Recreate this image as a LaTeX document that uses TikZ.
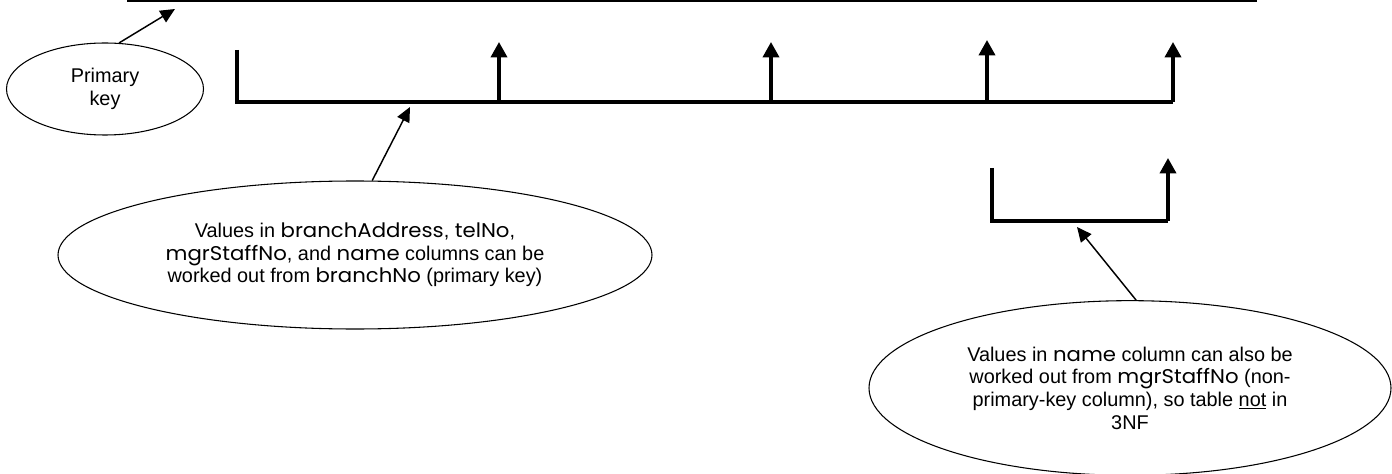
\documentclass[tikz,border=0pt]{standalone}
\usepackage{fontspec}
\setmainfont{Liberation Sans}
\newfontfamily\codefont[FakeStretch=1.07]{Poppins}
\newcommand\cw[1]{{\codefont #1}}
\usetikzlibrary{shapes.geometric,arrows.meta}
\tikzset{
  bubble/.style={draw,ellipse,line width=0.8pt,inner sep=0pt,align=center,
    font=\fontsize{14.9}{17}\selectfont},
  dep/.style={line width=2.6pt,-{Triangle[width=12pt,length=11.5pt]}},
  bar/.style={line width=2.6pt},
  pointer/.style={line width=1.1pt,-{Triangle[width=10pt,length=11pt]}}
}
\begin{document}
\begin{tikzpicture}[x=0.75pt,y=-0.75pt]
      \useasboundingbox (0,0) rectangle (1392,474);
      \draw[line width=2.4pt] (127,0.5) -- (1257,0.5);
      % the ellipses
      \node[bubble,minimum width=147.75pt,minimum height=69pt] (key) at (105,89)
        {Primary\\key};
      \node[bubble,minimum width=445.5pt,minimum height=111pt] (lft) at (355,255)
        {Values in \cw{branchAddress}, \cw{telNo},\\
         \cw{mgrStaffNo}, and \cw{name} columns can be\\
         worked out from \cw{branchNo} (primary key)};
      \node[bubble,minimum width=391.5pt,minimum height=131pt] (rgt) at (1130,388)
        {Values in \cw{name} column can also be\\
         worked out from \cw{mgrStaffNo} (non-\\
         primary-key column), so table \underline{not} in\\
         3NF};
      % the dependency lines
      \coordinate (m0) at (237,50);
      \coordinate (m1) at (237,102);
      \coordinate (m2) at (1173,102);
      \draw[bar] (m0) -- (m1) -- (m2);
      \draw[dep] (499,102) -- (499,42);
      \draw[dep] (771,102) -- (771,42);
      \draw[dep] (987,102) -- (987,40);
      \draw[dep] (m2) -- (1173,42);
      \coordinate (n0) at (992,168);
      \coordinate (n1) at (992,221);
      \coordinate (n2) at (1168,221);
      \draw[bar] (n0) -- (n1) -- (n2);
      \draw[dep] (n2) -- (1168,158);
      % the pointers
      \coordinate (keyTip) at (175,9);
      \coordinate (lftTip) at (410,107);
      \coordinate (rgtTip) at (1077,227);
      \draw[pointer] (key.73) -- (keyTip);
      \draw[pointer] (lft.77) -- (lftTip);
      \draw[pointer] (rgt.86) -- (rgtTip);
    \end{tikzpicture}
\end{document}
